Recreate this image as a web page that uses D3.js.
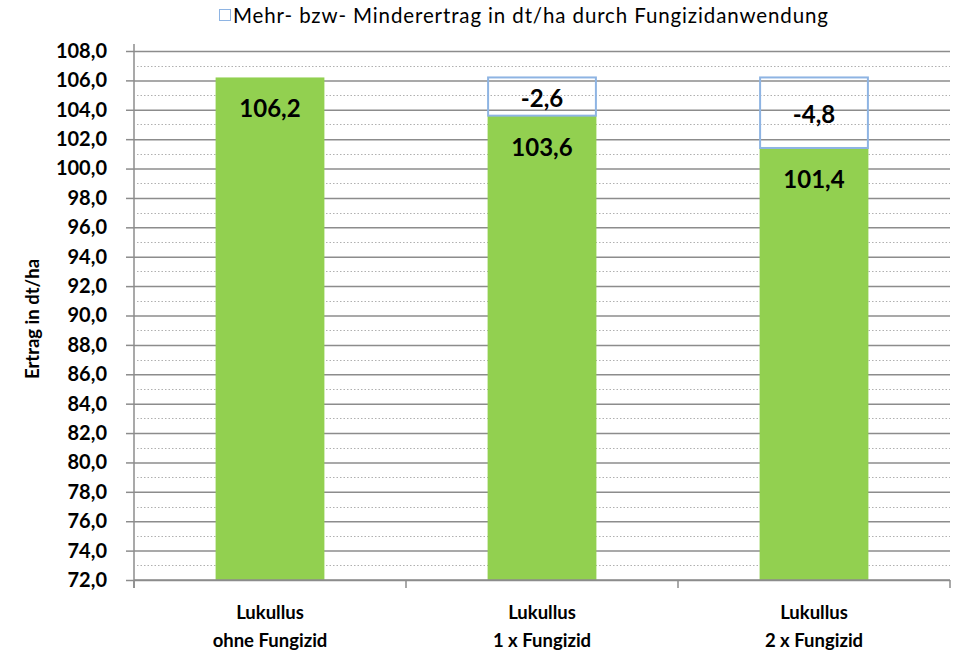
<!DOCTYPE html>
<html>
<head>
<meta charset="utf-8">
<script src="https://cdn.jsdelivr.net/npm/d3@7"></script>
<style>
  body { margin: 0; background: #fff; }
  text { font-family: Lato, "Open Sans", sans-serif; }
</style>
</head>
<body>
<script>
const width = 957;
const height = 652;

const categories = [
  ["Lukullus", "ohne Fungizid"],
  ["Lukullus", "1 x Fungizid"],
  ["Lukullus", "2 x Fungizid"]
];
const ertrag = [106.2, 103.6, 101.4];
const differenz = [null, -2.6, -4.8];
const yTicks = d3.range(72, 108.01, 2);
const legendLabel = "Mehr- bzw- Minderertrag in dt/ha durch Fungizidanwendung";
const yTitle = "Ertrag in dt/ha";

const margin = { top: 51, right: 7, bottom: 72, left: 134 };
// Excel style: comma decimal, plain hyphen for minus
const fmt = v => d3.format(".1f")(v).replace(".", ",").replace("\u2212", "-");

const svg = d3.select('body').append('svg')
  .attr('width', width)
  .attr('height', height);

const x = d3.scaleBand()
  .domain(d3.range(categories.length))
  .range([margin.left, width - margin.right]);

const y = d3.scaleLinear()
  .domain([72, 108])
  .range([height - margin.bottom, margin.top]);

const barW = x.bandwidth() * 0.4;

// minor dotted grid lines
svg.append('g').selectAll('line')
  .data(d3.range(73, 108, 2))
  .join('line')
  .attr('x1', margin.left + 3).attr('x2', width - margin.right)
  .attr('y1', d => Math.round(y(d)) + 0.5).attr('y2', d => Math.round(y(d)) + 0.5)
  .attr('stroke', '#b0b0b0')
  .attr('stroke-dasharray', '1.5,2');

// major grid lines + y axis
const yAxis = svg.append('g')
  .attr('transform', `translate(${margin.left},0)`)
  .call(d3.axisLeft(y).tickValues(yTicks).tickFormat(fmt)
    .tickSize(8).tickPadding(19))
  .call(g => g.select('.domain').remove());
yAxis.selectAll('.tick line')
  .attr('stroke', '#8c8c8c').attr('stroke-width', 1.5)
  .attr('x2', -8);
yAxis.selectAll('.tick').append('line')
  .attr('x1', 0).attr('x2', width - margin.right - margin.left)
  .attr('stroke', '#8c8c8c').attr('stroke-width', 1.5);
yAxis.selectAll('.tick text')
  .attr('font-size', 20).attr('font-weight', 'bold').attr('fill', '#000')
  .attr('font-family', 'Lato, sans-serif');

// bars
svg.append('g').selectAll('rect')
  .data(ertrag)
  .join('rect')
  .attr('x', (d, i) => x(i) + (x.bandwidth() - barW) / 2)
  .attr('width', barW)
  .attr('y', d => y(d))
  .attr('height', d => y(72) - y(d))
  .attr('fill', '#92d050');

// difference boxes
const diffs = differenz.map((d, i) => ({ d, i })).filter(o => o.d !== null);
svg.append('g').selectAll('rect')
  .data(diffs)
  .join('rect')
  .attr('x', o => x(o.i) + (x.bandwidth() - barW) / 2 + 0.5)
  .attr('width', barW - 1)
  .attr('y', o => y(ertrag[o.i] - o.d))
  .attr('height', o => y(ertrag[o.i]) - y(ertrag[o.i] - o.d))
  .attr('fill', 'none')
  .attr('stroke', '#8eb4e3')
  .attr('stroke-width', 2);

// y axis line & x axis line
svg.append('line')
  .attr('x1', margin.left).attr('x2', margin.left)
  .attr('y1', margin.top - 7).attr('y2', y(72) + 8)
  .attr('stroke', '#8c8c8c').attr('stroke-width', 1.5);
svg.append('line')
  .attr('x1', margin.left).attr('x2', width - margin.right)
  .attr('y1', y(72)).attr('y2', y(72))
  .attr('stroke', '#8c8c8c').attr('stroke-width', 1.5);
svg.append('g').selectAll('line')
  .data(d3.range(categories.length + 1))
  .join('line')
  .attr('x1', i => i < categories.length ? x(i) : x.range()[1])
  .attr('x2', i => i < categories.length ? x(i) : x.range()[1])
  .attr('y1', y(72)).attr('y2', y(72) + 8)
  .attr('stroke', '#8c8c8c').attr('stroke-width', 1.5);

// value labels
svg.append('g').selectAll('text')
  .data(ertrag)
  .join('text')
  .attr('x', (d, i) => x(i) + x.bandwidth() / 2)
  .attr('y', d => y(d) + 40)
  .attr('text-anchor', 'middle')
  .attr('font-size', 24).attr('font-weight', 'bold')
  .text(fmt);

svg.append('g').selectAll('text')
  .data(diffs)
  .join('text')
  .attr('x', o => x(o.i) + x.bandwidth() / 2)
  .attr('y', o => (y(ertrag[o.i]) + y(ertrag[o.i] - o.d)) / 2 + 10)
  .attr('text-anchor', 'middle')
  .attr('font-size', 24).attr('font-weight', 'bold')
  .text(o => fmt(o.d));

// category labels
const cat = svg.append('g').selectAll('text')
  .data(categories)
  .join('text')
  .attr('x', (d, i) => x(i) + x.bandwidth() / 2)
  .attr('y', 619)
  .attr('text-anchor', 'middle')
  .attr('font-size', 18.5).attr('font-weight', 'bold');
cat.selectAll('tspan')
  .data(d => d)
  .join('tspan')
  .attr('x', function () { return this.parentNode.getAttribute('x'); })
  .attr('dy', (d, j) => j === 0 ? 0 : 28)
  .text(d => d);

// y title
svg.append('text')
  .attr('transform', `translate(39, 319) rotate(-90)`)
  .attr('text-anchor', 'middle')
  .attr('font-size', 18.5).attr('font-weight', 'bold')
  .text(yTitle);

// legend
svg.append('rect')
  .attr('x', 219.5).attr('y', 9.5).attr('width', 11).attr('height', 11)
  .attr('fill', 'none').attr('stroke', '#8eb4e3').attr('stroke-width', 1);
svg.append('text')
  .attr('x', 233).attr('y', 23)
  .attr('font-size', 20.5)
  .attr('textLength', 595)
  .attr('lengthAdjust', 'spacing')
  .text(legendLabel);
</script>
</body>
</html>
